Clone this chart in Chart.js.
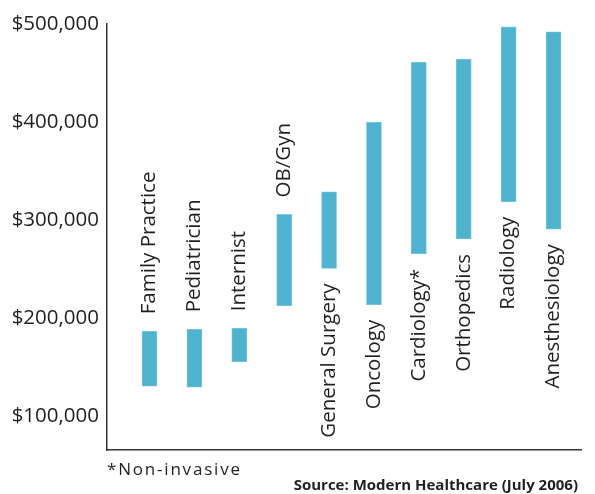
<!DOCTYPE html>
<html>
<head>
<meta charset="utf-8">
<script src="https://cdn.jsdelivr.net/npm/chart.js@4/dist/chart.umd.min.js"></script>
<style>
  html, body { margin: 0; padding: 0; background: #fff; }
  #wrap { position: relative; width: 595px; height: 494px; }
  canvas { display: block; }
</style>
</head>
<body>
<div id="wrap"><canvas id="c" width="595" height="494"></canvas></div>
<script>
const categories = ['Family Practice', 'Pediatrician', 'Internist', 'OB/Gyn', 'General Surgery',
                    'Oncology', 'Cardiology*', 'Orthopedics', 'Radiology', 'Anesthesiology'];
const lowSalary  = [131000, 130000, 156000, 213000, 251000, 214000, 266000, 281000, 319000, 291000];
const highSalary = [187000, 189000, 190000, 306000, 329000, 400000, 461000, 464000, 497000, 492000];
const labelSide  = ['above', 'above', 'above', 'above', 'below', 'below', 'below', 'below', 'below', 'below'];
const yTicks     = [100000, 200000, 300000, 400000, 500000];
const footnote   = '*Non-invasive';
const source     = 'Source: Modern Healthcare (July 2006)';

const TEXT = '#231f20';
const FONT = '"Open Sans", "DejaVu Sans", sans-serif';

const barLabels = {
  id: 'barLabels',
  afterDatasetsDraw(chart) {
    const ctx = chart.ctx;
    const meta = chart.getDatasetMeta(0);
    ctx.save();
    ctx.fillStyle = TEXT;
    ctx.font = '20.5px ' + FONT;
    ctx.textBaseline = 'middle';
    meta.data.forEach((el, i) => {
      const top = Math.min(el.y, el.base);
      const bot = Math.max(el.y, el.base);
      ctx.save();
      if (labelSide[i] === 'above') {
        ctx.translate(el.x, top - 17);
        ctx.rotate(-Math.PI / 2);
        ctx.textAlign = 'left';
      } else {
        ctx.translate(el.x, bot + 15);
        ctx.rotate(-Math.PI / 2);
        ctx.textAlign = 'right';
      }
      ctx.fillText(categories[i], 0, 0);
      ctx.restore();
    });
    // footnote & source
    ctx.font = '17px ' + FONT;
    ctx.textAlign = 'left';
    ctx.textBaseline = 'middle';
    if ('letterSpacing' in ctx) ctx.letterSpacing = '1.8px';
    ctx.fillText(footnote, 107, 470);
    if ('letterSpacing' in ctx) ctx.letterSpacing = '0px';
    ctx.font = 'bold 15px ' + FONT;
    ctx.textAlign = 'right';
    ctx.fillText(source, 578, 486);
    ctx.restore();
  }
};

new Chart(document.getElementById('c'), {
  type: 'bar',
  data: {
    datasets: [{
      data: categories.map((c, i) => ({ x: i, y: [lowSalary[i], highSalary[i]] })),
      backgroundColor: '#4fb3d0',
      borderColor: '#7ec8de',
      borderWidth: 0.8,
      borderSkipped: false,
      barThickness: 15
    }]
  },
  options: {
    responsive: false,
    animation: false,
    layout: { padding: { top: 24, bottom: 44, right: 14, left: 0 } },
    plugins: { legend: { display: false }, tooltip: { enabled: false } },
    scales: {
      x: {
        type: 'linear',
        offset: false,
        min: -0.947,
        max: 9.612,
        grid: { display: false, drawTicks: false, offset: false },
        border: { display: true, color: '#333', width: 1.5 },
        ticks: { display: false }
      },
      y: {
        min: 66000,
        max: 500000,
        afterBuildTicks: (s) => { s.ticks = yTicks.map(v => ({ value: v })); },
        afterFit: (s) => { s.width = 107; },
        grid: { display: false, drawTicks: false },
        border: { display: true, color: '#333', width: 1.5 },
        ticks: {
          padding: 8,
          color: TEXT,
          font: { family: FONT, size: 20.5 },
          callback: (v) => '$' + Number(v).toLocaleString('en-US')
        }
      }
    }
  },
  plugins: [barLabels]
});
</script>
</body>
</html>
